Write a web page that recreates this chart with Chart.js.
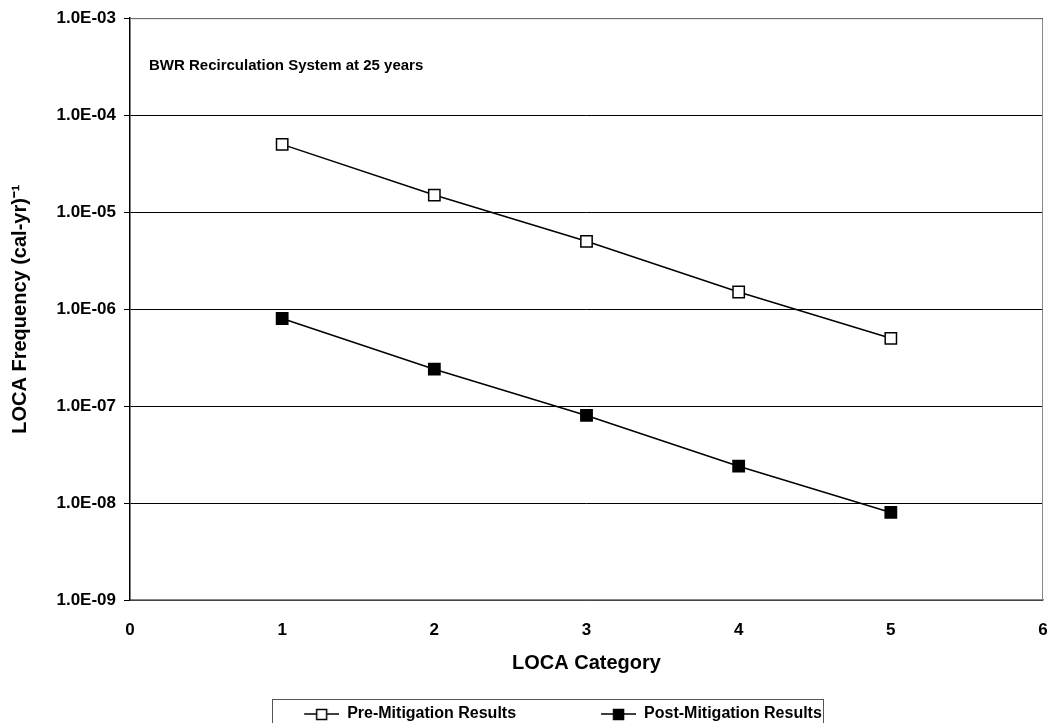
<!DOCTYPE html>
<html>
<head>
<meta charset="utf-8">
<script src="https://cdn.jsdelivr.net/npm/chart.js@4/dist/chart.umd.min.js"></script>
<style>
  html, body { margin: 0; padding: 0; background: #fff; }
  #wrap { width: 1063px; height: 723px; }
</style>
</head>
<body>
<div id="wrap"><canvas id="locaChart"></canvas></div>
<script>
/* ---- data ---- */
const categories = [1, 2, 3, 4, 5];
const preMitigation = [5e-5, 1.5e-5, 5e-6, 1.5e-6, 5e-7];
const postMitigation = [8e-7, 2.4e-7, 8e-8, 2.4e-8, 8e-9];
const yTicks = [1e-9, 1e-8, 1e-7, 1e-6, 1e-5, 1e-4, 1e-3];
const xTicks = [0, 1, 2, 3, 4, 5, 6];

const FONT = "'Liberation Sans', Arial, sans-serif";

// legend marker: short line with a square in the middle
// (blank space on the left gives the gap between the two entries)
const MARK_GAP = 83;
function legendMarker(filled) {
  const c = document.createElement('canvas');
  c.width = MARK_GAP + 35; c.height = 14;
  const g = c.getContext('2d');
  g.strokeStyle = '#000';
  g.lineWidth = 1.5;
  g.beginPath(); g.moveTo(MARK_GAP, 7); g.lineTo(MARK_GAP + 35, 7); g.stroke();
  g.fillStyle = filled ? '#000' : '#fff';
  g.fillRect(MARK_GAP + 12, 2, 11, 11);
  g.strokeRect(MARK_GAP + 12.5, 2.5, 10, 10);
  return c;
}

// text inside the plot + box round the legend + grey frame
const extras = {
  id: 'extras',
  afterDraw(chart) {
    const { ctx, chartArea } = chart;
    ctx.save();
    ctx.font = `bold 15px ${FONT}`;
    ctx.fillStyle = '#000';
    ctx.textBaseline = 'middle';
    ctx.fillText('BWR Recirculation System at 25 years', 149, 66);

    ctx.strokeStyle = '#555';
    ctx.lineWidth = 1;
    ctx.strokeRect(272.5, 699.5, 551, 40);

    ctx.strokeStyle = '#888';
    ctx.beginPath();
    ctx.moveTo(chartArea.left, chartArea.top + 0.5);
    ctx.lineTo(chartArea.right - 0.5, chartArea.top + 0.5);
    ctx.lineTo(chartArea.right - 0.5, chartArea.bottom);
    ctx.stroke();
    ctx.restore();
  }
};

const points = arr => categories.map((c, i) => ({ x: c, y: arr[i] }));

new Chart(document.getElementById('locaChart'), {
  type: 'line',
  data: {
    datasets: [
      {
        label: 'Pre-Mitigation Results',
        data: points(preMitigation),
        borderColor: '#000',
        borderWidth: 1.5,
        backgroundColor: '#fff',
        pointStyle: 'rect',
        pointRadius: 8,
        pointBorderWidth: 1.5,
        pointBorderColor: '#000',
        pointBackgroundColor: '#fff'
      },
      {
        label: 'Post-Mitigation Results',
        data: points(postMitigation),
        borderColor: '#000',
        borderWidth: 1.5,
        backgroundColor: '#000',
        pointStyle: 'rect',
        pointRadius: 8,
        pointBorderWidth: 1.5,
        pointBorderColor: '#000',
        pointBackgroundColor: '#000'
      }
    ]
  },
  options: {
    responsive: true,
    maintainAspectRatio: false,
    animation: false,
    layout: { padding: { top: 18, right: 20, left: 0, bottom: -9 } },
    plugins: {
      tooltip: { enabled: false },
      legend: {
        position: 'bottom',
        labels: {
          color: '#000',
          font: { family: FONT, size: 16, weight: 'bold' },
          usePointStyle: true,
          pointStyleWidth: MARK_GAP + 35,
          padding: 2,
          generateLabels: chart => chart.data.datasets.map((ds, i) => ({
            text: ds.label,
            pointStyle: legendMarker(i === 1),
            datasetIndex: i,
            fontColor: '#000',
            lineWidth: 0,
            strokeStyle: 'transparent',
            fillStyle: 'transparent'
          }))
        }
      }
    },
    scales: {
      x: {
        type: 'linear',
        min: 0,
        max: 6,
        afterBuildTicks: s => { s.ticks = xTicks.map(v => ({ value: v })); },
        afterFit: s => { s.height = 104; s.paddingRight = 0; s.paddingLeft = 0; },
        grid: { display: false, drawTicks: false },
        border: { color: '#888', width: 1.5 },
        ticks: {
          color: '#000',
          padding: 20,
          font: { family: FONT, size: 17, weight: 'bold' }
        },
        title: {
          display: true,
          text: 'LOCA Category',
          color: '#000',
          padding: { top: 4, bottom: 29 },
          font: { family: FONT, size: 20, weight: 'bold' }
        }
      },
      y: {
        type: 'logarithmic',
        min: 1e-9,
        max: 1e-3,
        afterBuildTicks: s => { s.ticks = yTicks.map(v => ({ value: v })); },
        afterFit: s => { s.width = 130; },
        grid: {
          color: '#000',
          lineWidth: 1,
          tickLength: 6,
          tickColor: '#000'
        },
        border: { color: '#000', width: 1.5 },
        ticks: {
          color: '#000',
          padding: 8,
          font: { family: FONT, size: 17, weight: 'bold' },
          callback: v => {
            const e = Math.round(Math.log10(v));
            return '1.0E-' + String(-e).padStart(2, '0');
          }
        },
        title: {
          display: true,
          text: 'LOCA Frequency (cal-yr)⁻¹',
          color: '#000',
          padding: { top: 8, bottom: 0 },
          font: { family: FONT, size: 20, weight: 'bold' }
        }
      }
    }
  },
  plugins: [extras]
});
</script>
</body>
</html>
